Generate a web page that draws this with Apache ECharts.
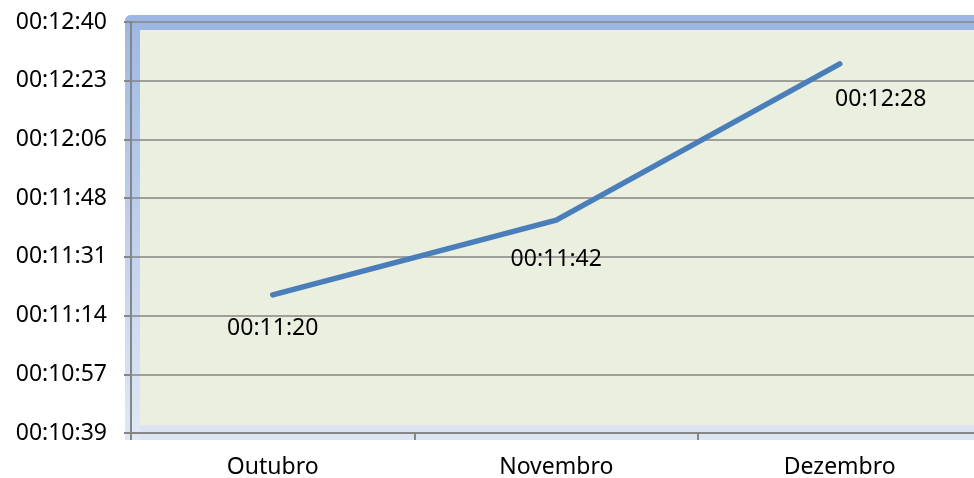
<!DOCTYPE html>
<html>
<head>
<meta charset="utf-8">
<script src="https://cdn.jsdelivr.net/npm/echarts@6/dist/echarts.min.js"></script>
<style>
  html, body { margin: 0; padding: 0; background: #fff; }
  #chart { width: 974px; height: 478px; }
</style>
</head>
<body>
<div id="chart"></div>
<script>
'use strict';

var months = ['Outubro', 'Novembro', 'Dezembro'];
var durations = ['00:11:20', '00:11:42', '00:12:28'];

// axis in fractions of a day, as the spreadsheet had it
var axisMin = 0.0074;
var axisMax = 0.0088;
var axisStep = 0.0002;

var FONT = 'Noto Sans';

function toSeconds(s) {
    var p = s.split(':');
    return (+p[0]) * 3600 + (+p[1]) * 60 + (+p[2]);
}

function pad(n) {
    return n < 10 ? '0' + n : '' + n;
}

function fmtDay(v) {
    var sec = Math.round(v * 86400);
    var h = Math.floor(sec / 3600);
    var m = Math.floor((sec % 3600) / 60);
    return pad(h) + ':' + pad(m) + ':' + pad(sec % 60);
}

// label nudges, Excel puts them below/right of the points
var labelNudge = [[0, 34], [0, 39], [41, 36]];

var seriesData = durations.map(function(d, i) {
    return {
        value: toSeconds(d) / 86400,
        label: { offset: labelNudge[i] }
    };
});

var chart = echarts.init(document.getElementById('chart'));

chart.setOption({
    animation: false,
    // plot runs a little past the right edge of the window
    grid: { left: 131, width: 850.5, top: 22, bottom: 45, outerBoundsMode: 'none' },
    graphic: [
        // back wall
        { type: 'rect', z: 1, shape: { x: 140, y: 30, width: 834, height: 395 },
          style: { fill: '#EBEFDF' } },
        // floor
        { type: 'rect', z: 1, shape: { x: 125, y: 425, width: 849, height: 15 },
          style: { fill: '#DCE4F3' } },
        // left wall
        { type: 'rect', z: 1, shape: { x: 125, y: 15, width: 15, height: 425, r: [6, 0, 0, 6] },
          style: { fill: new echarts.graphic.LinearGradient(0, 0, 0, 1, [
              { offset: 0, color: '#9DB8E4' },
              { offset: 1, color: '#E0E8F6' }
          ]) } },
        // top edge
        { type: 'rect', z: 1, shape: { x: 125, y: 15, width: 849, height: 15, r: [6, 0, 0, 0] },
          style: { fill: '#9CB7E3' } }
    ],
    xAxis: {
        type: 'category',
        data: months,
        boundaryGap: true,
        z: 3,
        axisLine: { lineStyle: { color: '#868686', width: 2 } },
        axisTick: { show: true, length: 7, lineStyle: { color: '#868686', width: 2 } },
        axisLabel: { color: '#000', fontFamily: FONT, fontSize: 23, margin: 23 }
    },
    yAxis: {
        type: 'value',
        min: axisMin,
        max: axisMax,
        interval: axisStep,
        z: 3,
        axisLine: { show: true, lineStyle: { color: '#868686', width: 2 } },
        axisTick: { show: true, length: 7, lineStyle: { color: '#868686', width: 2 } },
        axisLabel: {
            color: '#000', fontFamily: FONT, fontSize: 23, margin: 24,
            formatter: fmtDay
        },
        splitLine: { show: true, lineStyle: { color: '#868686', width: 1.5 } }
    },
    series: [{
        type: 'line',
        z: 5,
        data: seriesData,
        symbol: 'circle',
        symbolSize: 2,
        itemStyle: { color: '#4A7EBB' },
        lineStyle: { color: '#4A7EBB', width: 5.5, cap: 'round', join: 'round' },
        label: {
            show: true,
            position: 'inside',
            color: '#000',
            fontFamily: FONT,
            fontSize: 23,
            formatter: function(p) { return durations[p.dataIndex]; }
        }
    }]
});
</script>
</body>
</html>
